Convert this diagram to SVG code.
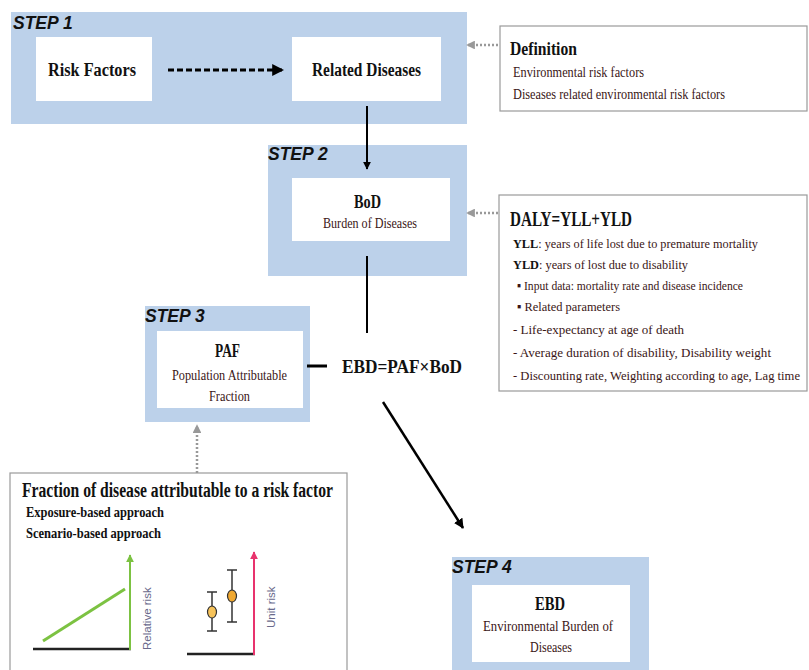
<svg xmlns="http://www.w3.org/2000/svg" width="809" height="670" viewBox="0 0 809 670">
<defs>
<style>
.panel{fill:#bcd1ea}
.wbox{fill:#ffffff}
.gbox{fill:#ffffff;stroke:#9a9a9a;stroke-width:1.2}
.step{font-family:"Liberation Sans",Arial,sans-serif;font-weight:bold;font-style:italic;font-size:17.5px;fill:#111}
.t{font-family:"Liberation Serif","Times New Roman",serif;fill:#111}
.b{font-weight:bold}
.red{fill:#3a1616}
</style>
<marker id="ah" viewBox="0 0 10 10" refX="9" refY="5" markerWidth="4" markerHeight="4" orient="auto" markerUnits="strokeWidth"><path d="M0,0 L10,5 L0,10 z" fill="#000"/></marker>
<marker id="ahg" viewBox="0 0 10 10" refX="9" refY="5" markerWidth="3.5" markerHeight="3.5" orient="auto" markerUnits="strokeWidth"><path d="M0,0 L10,5 L0,10 z" fill="#999"/></marker>
<marker id="ahgreen" viewBox="0 0 10 10" refX="9" refY="5" markerWidth="4" markerHeight="4" orient="auto" markerUnits="strokeWidth"><path d="M0,0 L10,5 L0,10 z" fill="#7cc242"/></marker>
<marker id="ahpink" viewBox="0 0 10 10" refX="9" refY="5" markerWidth="4" markerHeight="4" orient="auto" markerUnits="strokeWidth"><path d="M0,0 L10,5 L0,10 z" fill="#e8336d"/></marker>
</defs>
<rect width="809" height="670" fill="#fff"/>

<g id="step1">
<rect class="panel" x="11" y="12" width="456" height="112"/>
<text class="step" x="13" y="29">STEP 1</text>
</g>
<g id="risk-factors">
<rect class="wbox" x="36" y="37" width="116" height="64"/>
<text class="t b" x="48" y="76" font-size="18" textLength="88" lengthAdjust="spacingAndGlyphs">Risk Factors</text>
</g>
<g id="related-diseases">
<rect class="wbox" x="292" y="37" width="149" height="64"/>
<text class="t b" x="312" y="76" font-size="18" textLength="109" lengthAdjust="spacingAndGlyphs">Related Diseases</text>
</g>

<g id="definition">
<rect class="gbox" x="500" y="26" width="307" height="85"/>
<text class="t b" x="510" y="55" font-size="18" textLength="67" lengthAdjust="spacingAndGlyphs">Definition</text>
<text class="t red" x="513" y="77" font-size="14.5" textLength="131" lengthAdjust="spacingAndGlyphs">Environmental risk factors</text>
<text class="t red" x="513" y="99" font-size="14.5" textLength="212" lengthAdjust="spacingAndGlyphs">Diseases related environmental risk factors</text>
</g>

<g id="step2">
<rect class="panel" x="268" y="145" width="199" height="131"/>
<text class="step" x="268" y="160">STEP 2</text>
</g>
<g id="bod">
<rect class="wbox" x="292" y="178" width="158" height="63"/>
<text class="t b" x="354" y="208" font-size="18" textLength="27" lengthAdjust="spacingAndGlyphs">BoD</text>
<text class="t red" x="323" y="228" font-size="15" textLength="94" lengthAdjust="spacingAndGlyphs">Burden of Diseases</text>
</g>

<g id="daly">
<rect class="gbox" x="499" y="195" width="308" height="196"/>
<text class="t b" x="510" y="226" font-size="20" textLength="122" lengthAdjust="spacingAndGlyphs">DALY=YLL+YLD</text>
<text class="t" x="513" y="248" font-size="13.5" textLength="245" lengthAdjust="spacingAndGlyphs"><tspan class="b">YLL</tspan><tspan class="red">: years of life lost due to premature mortality</tspan></text>
<text class="t" x="513" y="269" font-size="13.5" textLength="175" lengthAdjust="spacingAndGlyphs"><tspan class="b">YLD</tspan><tspan class="red">: years of lost due to disability</tspan></text>
<text class="t red" x="517" y="290" font-size="13.5" textLength="226" lengthAdjust="spacingAndGlyphs">▪ Input data: mortality rate and disease incidence</text>
<text class="t red" x="517" y="311" font-size="13.5" textLength="103" lengthAdjust="spacingAndGlyphs">▪ Related parameters</text>
<text class="t red" x="513" y="334" font-size="13.5" textLength="171" lengthAdjust="spacingAndGlyphs">- Life-expectancy at age of death</text>
<text class="t red" x="513" y="357" font-size="13.5" textLength="258" lengthAdjust="spacingAndGlyphs">- Average duration of disability, Disability  weight</text>
<text class="t red" x="513" y="380" font-size="13" textLength="287" lengthAdjust="spacingAndGlyphs">- Discounting rate, Weighting according to age, Lag time</text>
</g>

<g id="step3">
<rect class="panel" x="145" y="306" width="165" height="116"/>
<text class="step" x="145" y="322">STEP 3</text>
</g>
<g id="paf">
<rect class="wbox" x="157" y="331" width="146" height="77"/>
<text class="t b" x="215" y="357" font-size="18" textLength="25" lengthAdjust="spacingAndGlyphs">PAF</text>
<text class="t red" x="172" y="380" font-size="15" textLength="115" lengthAdjust="spacingAndGlyphs">Population Attributable</text>
<text class="t red" x="209" y="401" font-size="15" textLength="41" lengthAdjust="spacingAndGlyphs">Fraction</text>
</g>

<g id="ebd-formula">
<text class="t b" x="342" y="373" font-size="19" textLength="120" lengthAdjust="spacingAndGlyphs">EBD=PAF×BoD</text>
</g>

<g id="step4">
<rect class="panel" x="452" y="557" width="197" height="113"/>
<text class="step" x="452" y="573">STEP 4</text>
</g>
<g id="ebd">
<rect class="wbox" x="472" y="585" width="158" height="77"/>
<text class="t b" x="535" y="610" font-size="18" textLength="30" lengthAdjust="spacingAndGlyphs">EBD</text>
<text class="t red" x="483" y="631" font-size="15" textLength="130" lengthAdjust="spacingAndGlyphs">Environmental Burden of</text>
<text class="t red" x="530" y="652" font-size="15" textLength="42" lengthAdjust="spacingAndGlyphs">Diseases</text>
</g>

<g id="fraction">
<rect class="gbox" x="10" y="473" width="337" height="210"/>
<text class="t b" x="22" y="497" font-size="20" textLength="311" lengthAdjust="spacingAndGlyphs">Fraction of disease attributable to a risk factor</text>
<text class="t b" x="26" y="517" font-size="15.5" textLength="138" lengthAdjust="spacingAndGlyphs">Exposure-based approach</text>
<text class="t b" x="26" y="538" font-size="15.5" textLength="135" lengthAdjust="spacingAndGlyphs">Scenario-based approach</text>
<line x1="43" y1="641" x2="125" y2="589" stroke="#7cc242" stroke-width="3"/>
<line x1="33" y1="649" x2="131" y2="649" stroke="#222" stroke-width="2.5"/>
<line x1="130" y1="650" x2="130" y2="555" stroke="#7cc242" stroke-width="2" marker-end="url(#ahgreen)"/>
<text x="0" y="0" transform="translate(151,650) rotate(-90)" font-family="Liberation Sans,Arial,sans-serif" font-size="11.5" fill="#6a6a8c">Relative risk</text>
<line x1="187" y1="654" x2="255" y2="654" stroke="#222" stroke-width="2.5"/>
<line x1="254" y1="655" x2="254" y2="552" stroke="#e8336d" stroke-width="2" marker-end="url(#ahpink)"/>
<text x="0" y="0" transform="translate(275,628) rotate(-90)" font-family="Liberation Sans,Arial,sans-serif" font-size="11.5" fill="#6a6a8c">Unit risk</text>
<g stroke="#333" stroke-width="1.5">
<line x1="212" y1="592" x2="212" y2="631"/><line x1="207" y1="592" x2="217" y2="592"/><line x1="207" y1="631" x2="217" y2="631"/>
<line x1="232" y1="570" x2="232" y2="622"/><line x1="227" y1="570" x2="237" y2="570"/><line x1="227" y1="622" x2="237" y2="622"/>
</g>
<ellipse cx="212" cy="612" rx="4.5" ry="6" fill="#f7c35a" stroke="#333" stroke-width="1.2"/>
<ellipse cx="232" cy="596" rx="4.5" ry="6" fill="#f0a830" stroke="#333" stroke-width="1.2"/>
</g>

<g id="connectors">
<line x1="168" y1="70" x2="283" y2="70" stroke="#000" stroke-width="3" stroke-dasharray="6 3" marker-end="url(#ah)"/>
<line x1="367" y1="106" x2="367" y2="169" stroke="#000" stroke-width="2" marker-end="url(#ah)"/>
<line x1="367" y1="256" x2="367" y2="333" stroke="#000" stroke-width="2"/>
<line x1="307" y1="366" x2="327" y2="366" stroke="#000" stroke-width="3"/>
<line x1="383" y1="402" x2="463" y2="528" stroke="#000" stroke-width="2.5" marker-end="url(#ah)"/>
<line x1="498" y1="45" x2="467" y2="45" stroke="#999" stroke-width="2.5" stroke-dasharray="2 2" marker-end="url(#ahg)"/>
<line x1="498" y1="213" x2="467" y2="213" stroke="#999" stroke-width="2.5" stroke-dasharray="2 2" marker-end="url(#ahg)"/>
<line x1="197" y1="473" x2="197" y2="425" stroke="#999" stroke-width="2.5" stroke-dasharray="2 2" marker-end="url(#ahg)"/>
</g>
</svg>
